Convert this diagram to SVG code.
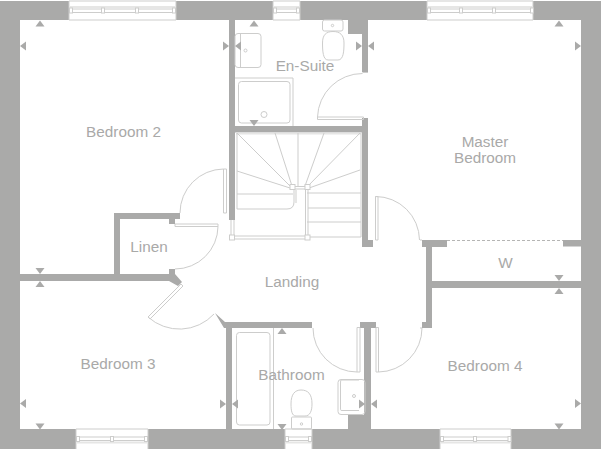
<svg xmlns="http://www.w3.org/2000/svg" width="601" height="450" viewBox="0 0 601 450">
<style>
text{font-family:"Liberation Sans",Arial,sans-serif;font-size:15.300px;fill:#a9a9a8;text-anchor:middle}
.w{fill:#aaaaa9}
.l{fill:none;stroke:#cdcdcc;stroke-width:1}
.f{fill:#fff;stroke:#cdcdcc;stroke-width:1}
.h{fill:none;stroke:#e6e6e5;stroke-width:2}
.t{fill:#aaaaa9}
</style>
<defs>
<polygon id="up" class="t" points="-4.500,0 4.500,0 0,-6"/>
<polygon id="dn" class="t" points="-4.500,0 4.500,0 0,6"/>
<polygon id="lf" class="t" points="0,-4.500 0,4.500 -6,0"/>
<polygon id="rt" class="t" points="0,-4.500 0,4.500 6,0"/>
</defs>
<rect width="601" height="450" fill="#fff"/>
<g id="walls">
<path class="w" d="M0 1H69V20H20V429H76V449H0Z"/>
<rect class="w" x="176" y="1" width="97" height="19"/>
<path class="w" d="M300 1H427V20H368V72H362V34H348V20H300Z"/>
<path class="w" d="M533 1H601V449H511V429H581V20H533Z"/>
<rect class="w" x="148" y="429" width="137" height="20"/>
<rect class="w" x="312" y="429" width="128" height="20"/>
<rect class="w" x="229" y="20" width="6" height="200"/>
<rect class="w" x="229" y="126" width="139" height="6.500"/>
<path class="w" d="M362 118H368V240H373V247H362Z"/>
<path class="w" d="M114 213H180V219H175V224H169V219H120V274H175L182 282L178 286L169 281H20V274H114Z"/>
<path class="w" d="M169 269H175V274H169Z"/>
<path class="w" d="M215 313L225 322H312V328H232V429H226V328H224Z"/>
<path class="w" d="M360 322H376V328H371V429H348V415H364V328H360Z"/>
<path class="w" d="M422 240H447V247H432V281H581V288H432V328H422V322H426V247H422Z"/>
<rect class="w" x="563" y="240" width="18" height="6.500"/>
<line x1="447" y1="240.500" x2="563" y2="240.500" stroke="#b5b5b4" stroke-width="1" stroke-dasharray="3 2"/>
</g>
<g id="windows">
<path class="l" d="M69 1V20H176V1M69 1H176"/>
<path class="h" d="M70 7H175"/>
<path class="l" d="M70 9H175M70 12.500H175"/>
<rect class="f" x="69.500" y="8" width="3" height="5"/><rect class="f" x="101.500" y="8" width="3" height="5"/><rect class="f" x="135.500" y="8" width="3" height="5"/><rect class="f" x="172.500" y="8" width="3" height="5"/>
<path class="l" d="M273 1V20H300V1M273 1H300"/>
<path class="h" d="M274 7H299"/>
<path class="l" d="M274 9H299M274 12.500H299"/>
<rect class="f" x="273.500" y="8" width="3" height="5"/><rect class="f" x="296.500" y="8" width="3" height="5"/>
<path class="l" d="M427 1V20H533V1M427 1H533"/>
<path class="h" d="M428 7H532"/>
<path class="l" d="M428 9H532M428 12.500H532"/>
<rect class="f" x="427.500" y="8" width="3" height="5"/><rect class="f" x="459.500" y="8" width="3" height="5"/><rect class="f" x="492.500" y="8" width="3" height="5"/><rect class="f" x="530.500" y="8" width="3" height="5"/>
<path class="l" d="M76 449V429H148V449"/>
<path class="l" d="M77 437H147M77 440.500H147"/>
<path class="h" d="M77 442.500H147"/>
<rect class="f" x="76.500" y="436.500" width="3" height="5"/><rect class="f" x="110.500" y="436.500" width="3" height="5"/><rect class="f" x="144.500" y="436.500" width="3" height="5"/>
<path class="l" d="M285 449V429H312V449"/>
<path class="l" d="M286 437H311M286 440.500H311"/>
<path class="h" d="M286 442.500H311"/>
<rect class="f" x="285.500" y="436.500" width="3" height="5"/><rect class="f" x="308.500" y="436.500" width="3" height="5"/>
<path class="l" d="M440 449V429H511V449"/>
<path class="l" d="M441 437H510M441 440.500H510"/>
<path class="h" d="M441 442.500H510"/>
<rect class="f" x="440.500" y="436.500" width="3" height="5"/><rect class="f" x="473.500" y="436.500" width="3" height="5"/><rect class="f" x="508" y="436.500" width="3" height="5"/>
</g>
<g id="doors">
<path class="l" d="M317.500 117A45 45 0 0 1 362.500 73.500"/>
<path class="l" d="M317.500 117H363.500V119.500H317.500Z"/>
<path class="l" d="M362.500 72.500H368"/>
<path class="l" d="M223.500 169A44 44 0 0 0 180 213"/>
<path class="l" d="M223.500 169H226.500V213H223.500Z"/>
<path class="l" d="M175 224H218V226.500H175Z"/>
<path class="l" d="M218 226.500A43 43 0 0 1 175 269"/>
<path class="l" d="M181 284L148 317L150 319L183 286Z"/>
<path class="l" d="M148 317A47 47 0 0 0 214 314"/>
<path class="l" d="M375.500 196.500H378V240H375.500Z"/>
<path class="l" d="M375.500 196.500A44 44 0 0 1 419.500 240"/>
<path class="l" d="M376 327.500H378.500V372H376Z"/>
<path class="l" d="M378.500 372A44 44 0 0 0 422 328"/>
<path class="l" d="M357 327.500H360V372H357Z"/>
<path class="l" d="M357 372A44 44 0 0 1 313 328"/>
<path class="l" d="M420 240H422M420 328H422"/>
</g>
<g id="stairs">
<path class="h" d="M236 133.500H361"/>
<path class="l" d="M237 133V209M361 133V237M237 133L290 186M275 133L292 186M298 133V186M324 133L305 186M360 133L308 186M237 171L290 188M360 170L309 188"/>
<path class="l" d="M237 194H293M237 209H287Q294 209 294 202V190"/>
<path class="h" d="M296 190V203"/>
<path class="l" d="M307 193H361M307 222H361M307 237H361"/>
<path class="h" d="M308 208H361"/>
<path class="l" d="M295 186.500H305M295 189H305"/>
<path class="l" d="M305.500 190V235M308 190V235"/>
<path class="l" d="M231 220V235M234 220V235"/>
<path class="l" d="M234 236H305M234 239H305"/>
<rect class="f" x="290" y="184.500" width="5" height="5"/>
<rect class="f" x="305" y="184.500" width="5" height="5"/>
<rect class="f" x="229.500" y="235" width="5" height="5"/>
<rect class="f" x="305" y="235" width="5" height="5"/>
</g>
<g id="fittings">
<rect class="l" x="235" y="33.500" width="26" height="34" rx="3"/>
<path class="l" d="M240.500 34V67"/>
<circle class="l" cx="245.500" cy="50.500" r="1.500"/>
<rect class="l" x="322.500" y="20" width="20.500" height="11" rx="2"/>
<circle class="l" cx="332.500" cy="25.500" r="1.200"/>
<path class="l" d="M322.500 43C322.500 35 326 31.500 333 31.500C340 31.500 344 35 344 43C344 51 343.500 60 338 60H328C323 60 322.500 51 322.500 43Z"/>
<path class="h" d="M235 78H293"/>
<path class="l" d="M293 78V126"/>
<rect class="l" x="238.500" y="81.500" width="51.500" height="41.500" rx="3"/>
<circle class="l" cx="264" cy="114.500" r="3"/>
<path class="l" d="M273.500 328V429"/>
<rect class="l" x="236.500" y="332.500" width="33.500" height="92.500" rx="3"/>
<rect class="l" x="291.500" y="417" width="20" height="12" rx="1"/>
<circle class="l" cx="301.500" cy="424" r="1.200"/>
<path class="l" d="M291 404C291 394 295 390 301 390C308 390 312 394 312 404C312 411 310 416 305 416H296C292 416 291 411 291 404Z"/>
<rect class="l" x="338" y="379.500" width="27" height="35" rx="3"/>
<path class="l" d="M359 380H341Q340.500 380 340.500 383V409.500Q340.500 410.500 342 410.500H359"/>
<circle class="l" cx="354" cy="396" r="1.500"/>
</g>
<g id="markers">
<use href="#up" x="40" y="26.500"/><use href="#lf" x="26" y="46"/>
<use href="#rt" x="223" y="46"/><use href="#lf" x="241" y="46"/>
<use href="#dn" x="40" y="268"/><use href="#up" x="40" y="287"/>
<use href="#lf" x="26" y="403.500"/><use href="#dn" x="40" y="423.500"/>
<use href="#rt" x="220" y="404"/><use href="#lf" x="238" y="404"/>
<use href="#up" x="254" y="26.500"/><use href="#dn" x="254" y="120"/>
<use href="#rt" x="356" y="46"/><use href="#lf" x="374" y="46"/>
<use href="#up" x="559" y="26.500"/><use href="#rt" x="575" y="46"/>
<use href="#dn" x="559" y="275"/><use href="#up" x="559" y="294"/>
<use href="#rt" x="575" y="403.500"/><use href="#dn" x="559" y="423.500"/>
<use href="#up" x="282" y="334"/><use href="#dn" x="282" y="424"/>
<use href="#rt" x="359" y="404"/><use href="#lf" x="377" y="404"/>
</g>
<g id="labels">
<text x="123.500" y="137">Bedroom 2</text>
<text x="305" y="71">En-Suite</text>
<text x="485" y="147">Master</text>
<text x="485" y="163">Bedroom</text>
<text x="149" y="252">Linen</text>
<text x="292" y="287">Landing</text>
<text x="505.500" y="268">W</text>
<text x="118" y="369">Bedroom 3</text>
<text x="291.500" y="380">Bathroom</text>
<text x="485" y="371">Bedroom 4</text>
</g>
</svg>
